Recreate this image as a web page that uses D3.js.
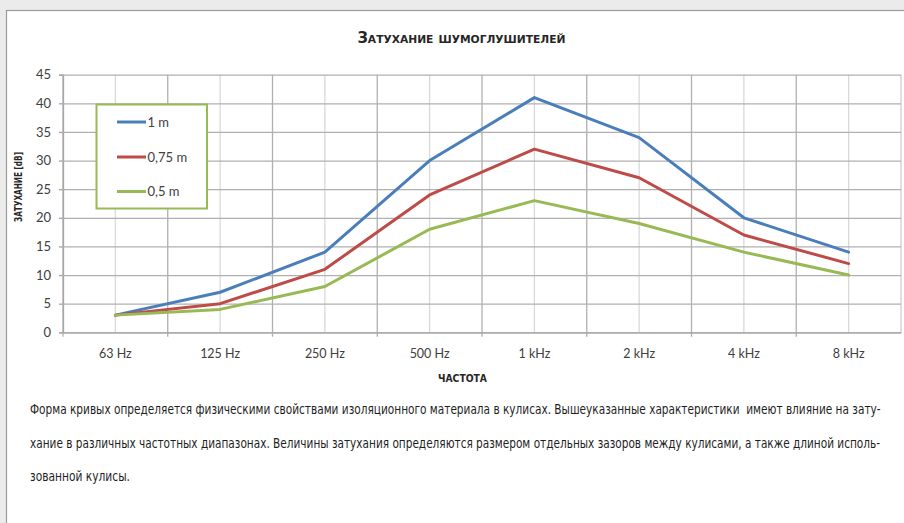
<!DOCTYPE html>
<html>
<head>
<meta charset="utf-8">
<script src="https://cdn.jsdelivr.net/npm/d3@7/dist/d3.min.js"></script>
<style>
  html, body { margin: 0; padding: 0; background: #ebebeb; }
  svg { display: block; }
</style>
</head>
<body>
<svg id="chart" width="904" height="523"></svg>
<script>
// Frequency bands and attenuation per baffle length
const categories = ["63 Hz", "125 Hz", "250 Hz", "500 Hz", "1 kHz", "2 kHz", "4 kHz", "8 kHz"];
const seriesNames = ["1 m", "0,75 m", "0,5 m"];
const att1m   = [3, 7, 14, 30, 41, 34, 20, 14];
const att075m = [3, 5, 11, 24, 32, 27, 17, 12];
const att05m  = [3, 4, 8, 18, 23, 19, 14, 10];
const yTicks = [0, 5, 10, 15, 20, 25, 30, 35, 40, 45];
const titleText = "Затухание шумоглушителей";
const yTitle = "ЗАТУХАНИЕ [dB]";
const xTitle = "ЧАСТОТА";
const noteLines = [
  "Форма кривых определяется физическими свойствами изоляционного материала в кулисах. Вышеуказанные характеристики  имеют влияние на зату-",
  "хание в различных частотных диапазонах. Величины затухания определяются размером отдельных зазоров между кулисами, а также длиной исполь-",
  "зованной кулисы."
];

const series = [
  { name: seriesNames[0], values: att1m,   color: "#4a7ebb" },
  { name: seriesNames[1], values: att075m, color: "#be4b48" },
  { name: seriesNames[2], values: att05m,  color: "#98b954" }
];

const svg = d3.select("#chart");
const narrow = "'Liberation Sans Narrow', 'DejaVu Sans Condensed', 'DejaVu Sans', sans-serif";
const tickFont = "Lato, 'Open Sans', sans-serif";

// page panel
svg.append("rect").attr("x", 6.5).attr("y", 10.5).attr("width", 920).attr("height", 540)
  .attr("fill", "#ffffff").attr("stroke", "#9a9a9a").attr("stroke-width", 1.2);

const plot = { left: 63, right: 901, top: 74.7, bottom: 332.3 };

const x = d3.scaleBand().domain(categories).range([plot.left, plot.right]).padding(0);
const y = d3.scaleLinear().domain([0, 45]).range([plot.bottom, plot.top]);
const cx = c => x(c) + x.bandwidth() / 2;

const g = svg.append("g");

// vertical grid: band centres (light) and band boundaries (darker)
g.selectAll("line.vc").data(categories).enter().append("line")
  .attr("x1", d => cx(d)).attr("x2", d => cx(d))
  .attr("y1", plot.top).attr("y2", plot.bottom)
  .attr("stroke", "#d9d9d9").attr("stroke-width", 1.3);

const boundaries = categories.map(c => x(c)).concat([plot.right]);
g.selectAll("line.vb").data(boundaries).enter().append("line")
  .attr("x1", d => d).attr("x2", d => d)
  .attr("y1", plot.top).attr("y2", (d, i) => i === boundaries.length - 1 ? plot.bottom : plot.bottom + 4.5)
  .attr("stroke", (d, i) => i === boundaries.length - 1 ? "#cfcfcf" : "#b0b0b0")
  .attr("stroke-width", 1.3);

// y axis with horizontal grid
const yAxis = d3.axisLeft(y).tickValues(yTicks).tickSize(4).tickPadding(8);
const ya = g.append("g").attr("transform", `translate(${plot.left},0)`).call(yAxis);
ya.select(".domain").attr("stroke", "#a6a6a6").attr("stroke-width", 1.3);
ya.selectAll(".tick line").attr("stroke", "#a6a6a6").attr("stroke-width", 1.3);
ya.selectAll(".tick text").attr("font-family", tickFont).attr("font-size", 13).attr("fill", "#404040");
ya.selectAll(".tick").append("line")
  .attr("x1", 0).attr("x2", plot.right - plot.left)
  .attr("stroke", "#b0b0b0").attr("stroke-width", 1.3);

// x axis labels
const xAxis = d3.axisBottom(x).tickSize(0).tickPadding(17);
const xa = g.append("g").attr("transform", `translate(0,${plot.bottom})`).call(xAxis);
xa.select(".domain").attr("stroke", "#a6a6a6").attr("stroke-width", 1.3);
xa.selectAll(".tick text").attr("font-family", tickFont).attr("font-size", 12.5).attr("fill", "#404040");

// series lines
const line = d3.line().x((d, i) => cx(categories[i])).y(d => y(d));
g.selectAll("path.series").data(series).enter().append("path")
  .attr("d", d => line(d.values))
  .attr("fill", "none").attr("stroke", d => d.color)
  .attr("stroke-width", 3).attr("stroke-linejoin", "round").attr("stroke-linecap", "round");

// legend
const lg = svg.append("g");
lg.append("rect").attr("x", 96.5).attr("y", 104.5).attr("width", 110.5).attr("height", 104)
  .attr("fill", "#ffffff").attr("stroke", "#98b954").attr("stroke-width", 2);
const legendY = [122, 157, 191.5];
series.forEach((s, i) => {
  lg.append("line").attr("x1", 117).attr("x2", 146).attr("y1", legendY[i]).attr("y2", legendY[i])
    .attr("stroke", s.color).attr("stroke-width", 3);
  lg.append("text").attr("x", 147.5).attr("y", legendY[i]).attr("dy", "0.35em")
    .attr("font-family", tickFont).attr("font-size", 13).attr("fill", "#404040").text(s.name);
});

// title
svg.append("text").attr("x", 461.5).attr("y", 42.5)
  .attr("text-anchor", "middle")
  .attr("font-family", narrow).attr("font-weight", "bold").attr("font-size", 15)
  .style("font-variant", "small-caps").attr("fill", "#262626")
  .attr("textLength", 208).attr("lengthAdjust", "spacingAndGlyphs")
  .text(titleText);

// axis titles
svg.append("text").attr("transform", "translate(22,187) rotate(-90)")
  .attr("text-anchor", "middle")
  .attr("font-family", narrow).attr("font-weight", "bold").attr("font-size", 10)
  .attr("fill", "#262626").attr("textLength", 70).attr("lengthAdjust", "spacingAndGlyphs")
  .text(yTitle);
svg.append("text").attr("x", 462.5).attr("y", 381.5)
  .attr("text-anchor", "middle")
  .attr("font-family", narrow).attr("font-weight", "bold").attr("font-size", 10)
  .attr("fill", "#262626").attr("textLength", 49).attr("lengthAdjust", "spacingAndGlyphs")
  .text(xTitle);

// explanatory note: each line is squeezed horizontally to fill the text column
const noteBase = [414, 447.5, 481];
const noteWidths = [851, 851, 100];
const noteLeft = 30;
noteLines.forEach((t, i) => {
  const row = svg.append("g");
  const el = row.append("text").attr("x", 0).attr("y", 0)
    .attr("font-family", narrow).attr("font-size", 14).attr("fill", "#1e1e1e")
    .style("white-space", "pre")
    .text(t);
  const natural = el.node().getComputedTextLength();
  row.attr("transform", `translate(${noteLeft},${noteBase[i]}) scale(${noteWidths[i] / natural},1)`);
});
</script>
</body>
</html>
